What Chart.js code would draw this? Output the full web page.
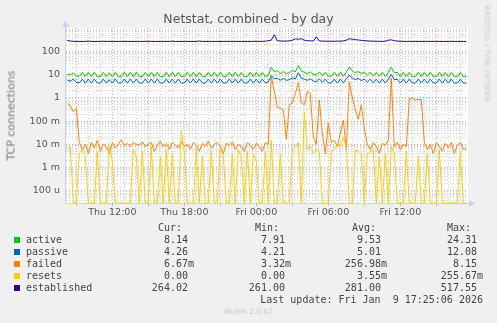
<!DOCTYPE html>
<html>
<head>
<meta charset="utf-8">
<script src="https://cdn.jsdelivr.net/npm/chart.js@4.4.0/dist/chart.umd.min.js"></script>
<style>
  body { margin: 0; background: #f0f0f0; width: 497px; height: 323px; overflow: hidden; position: relative;
         font-family: "DejaVu Sans", sans-serif; color: #444; }
  #wrap { position: absolute; left: 0; top: 0; width: 497px; height: 230px; }
  .t { position: absolute; white-space: pre; }
  .mono { font-family: "DejaVu Sans Mono", monospace; font-size: 10px; line-height: 12px; }
  .box { position: absolute; width: 6px; height: 6px; }
</style>
</head>
<body>
<div id="wrap"><canvas id="grafico" width="497" height="230"></canvas></div>
<div class="t" id="title" style="left:0;width:497px;top:11px;text-align:center;font-size:12.5px;color:#555;">Netstat, combined - by day</div>
<div class="t" style="left:-39px;top:109px;width:100px;text-align:center;font-size:11px;color:#777;transform:rotate(-90deg);">TCP connections</div>
<div class="t" style="left:437px;top:49px;width:100px;text-align:center;font-size:7.5px;color:#cccccc;transform:rotate(90deg);">RRDTOOL / TOBI OETIKER</div>
<div class="t" style="left:0;width:497px;top:307px;text-align:center;font-size:7.5px;color:#cccccc;">Munin 2.0.67</div>
<div id="legend"></div>
<script>
// x axis: hours since Thu 00:00, one sample every 15 minutes
const startHour = 8.25;
const stepHours = 0.25;
const xTickHours = [12, 18, 24, 30, 36];
const xTickLabels = ['Thu 12:00', 'Thu 18:00', 'Fri 00:00', 'Fri 06:00', 'Fri 12:00'];
const yTickValues = [1e-4, 1e-3, 1e-2, 1e-1, 1, 10, 100];
const yTickLabels = ['100 u', '1 m', '10 m', '100 m', '1', '10', '100'];
const yMin = 3e-5;
const yMax = 1000;

const seriesNames = ['active', 'passive', 'failed', 'resets', 'established'];
const seriesColors = ['#00cc00', '#0066b3', '#ff8000', '#ffcc00', '#330099'];

const activeVals = [
  10.5, 9.6, 12.0, 8.6, 8.4, 12.5, 8.2, 12.5, 8.1, 12.5,
  8.1, 8.1, 12.5, 8.1, 12.0, 8.1, 12.5, 8.1, 8.1, 12.5,
  8.1, 12.5, 8.1, 12.5, 8.1, 8.1, 12.5, 8.1, 12.5, 8.1,
  12.5, 8.1, 8.1, 12.5, 8.1, 12.5, 8.1, 12.5, 8.1, 8.1,
  12.5, 8.1, 12.5, 8.1, 12.5, 8.1, 8.1, 12.5, 8.1, 12.5,
  8.1, 12.5, 8.1, 8.1, 12.5, 8.1, 12.5, 8.1, 12.5, 8.1,
  8.1, 12.5, 8.1, 12.5, 8.1, 12.5, 8.2, 9.0, 20.0, 13.0,
  15.0, 11.0, 13.5, 11.0, 12.0, 15.0, 13.0, 24.3, 14.0, 12.5,
  11.0, 13.0, 10.5, 9.5, 13.0, 9.0, 12.5, 8.6, 8.4, 12.5,
  8.3, 12.5, 8.4, 13.0, 21.0, 14.0, 12.0, 13.5, 11.0, 12.5,
  9.5, 12.5, 8.6, 12.5, 8.3, 12.5, 8.2, 12.5, 20.0, 12.0,
  12.5, 8.2, 12.5, 8.1, 12.5, 8.1, 8.1, 12.5, 8.1, 12.5,
  8.1, 12.5, 8.1, 8.1, 12.5, 8.1, 12.5, 8.1, 12.5, 8.1,
  8.1, 12.5, 8.1, 8.14
];
const passiveVals = [
  5.8, 5.2, 6.3, 4.6, 4.4, 6.3, 4.3, 6.3, 4.3, 6.3,
  4.3, 4.3, 6.3, 4.3, 6.0, 4.3, 6.3, 4.3, 4.3, 6.3,
  4.3, 6.3, 4.3, 6.3, 4.3, 4.3, 6.3, 4.3, 6.3, 4.3,
  6.3, 4.3, 4.3, 6.3, 4.3, 6.3, 4.3, 6.3, 4.3, 4.3,
  6.3, 4.3, 6.3, 4.3, 6.3, 4.3, 4.3, 6.3, 4.3, 6.3,
  4.3, 6.3, 4.3, 4.3, 6.3, 4.3, 6.3, 4.3, 6.3, 4.3,
  4.3, 6.3, 4.3, 6.3, 4.3, 6.3, 4.4, 4.8, 9.0, 6.5,
  7.0, 5.6, 6.8, 5.6, 6.0, 7.2, 6.5, 12.0, 7.0, 6.3,
  5.6, 6.5, 5.3, 4.8, 6.5, 4.6, 6.3, 4.4, 4.3, 6.3,
  4.3, 6.3, 4.4, 6.5, 9.5, 7.0, 6.0, 6.8, 5.5, 6.3,
  4.8, 6.3, 4.4, 6.3, 4.3, 6.3, 4.3, 6.3, 10.0, 6.0,
  6.3, 4.3, 6.3, 4.3, 6.3, 4.3, 4.3, 6.3, 4.3, 6.3,
  4.3, 6.3, 4.3, 4.3, 6.3, 4.3, 6.3, 4.3, 6.3, 4.3,
  4.3, 6.3, 4.3, 4.26
];
const failedVals = [
  0.6, 0.45, 0.25, 0.35, 0.012, 0.006, 0.01, 0.004, 0.012, 0.007,
  0.015, 0.005, 0.01, 0.008, 0.004, 0.012, 0.007, 0.01, 0.016, 0.009,
  0.011, 0.008, 0.012, 0.01, 0.009, 0.013, 0.008, 0.01, 0.012, 0.005,
  0.009, 0.014, 0.008, 0.011, 0.006, 0.012, 0.009, 0.007, 0.013, 0.008,
  0.01, 0.006, 0.012, 0.009, 0.005, 0.011, 0.008, 0.014, 0.007, 0.01,
  0.012, 0.008, 0.004, 0.011, 0.009, 0.013, 0.006, 0.01, 0.008, 0.005,
  0.012, 0.009, 0.006, 0.011, 0.008, 0.005, 0.012, 0.01, 8.0, 2.0,
  0.4, 0.35, 0.3, 0.016, 0.5, 0.6, 1.5, 4.5, 0.6, 0.5,
  1.9, 1.5, 0.02, 0.01, 0.8, 0.03, 0.004, 0.08, 0.012, 0.015,
  0.008, 0.03, 0.11, 0.006, 4.8, 1.0, 0.3, 0.12, 0.5, 0.05,
  0.01, 0.006, 0.012, 0.008, 0.004, 0.011, 0.009, 0.015, 7.0, 0.008,
  0.012, 0.006, 0.01, 0.008, 0.9, 1.0, 0.8, 0.85, 0.85, 0.012,
  0.006, 0.01, 0.004, 0.012, 0.008, 0.005, 0.011, 0.007, 0.012, 0.004,
  0.009, 0.012, 0.006, 0.00667
];
const resetsVals = [
  0.006, 0.008, 0, 0, 0.004, 0.006, 0.003, 0, 0, 0,
  0.005, 0, 0, 0, 0.008, 0.002, 0, 0, 0, 0,
  0, 0, 0.006, 0.003, 0, 0.005, 0, 0, 0.008, 0,
  0, 0.003, 0, 0.006, 0, 0.004, 0, 0, 0.04, 0.005,
  0, 0, 0, 0.006, 0, 0.003, 0, 0, 0.005, 0,
  0, 0.008, 0.003, 0, 0, 0.004, 0, 0.006, 0.003, 0,
  0.005, 0, 0.004, 0.002, 0, 0, 0.005, 0, 0.015, 0,
  0, 0.004, 0, 0, 0, 0.006, 0.008, 0.012, 0, 0.25,
  0.006, 0.008, 0.004, 0.006, 0.005, 0, 0, 0, 0.005, 0.006,
  0.01, 0.008, 0.02, 0.008, 0, 0, 0.006, 0.005, 0.004, 0,
  0.004, 0.005, 0.006, 0, 0.003, 0, 0.004, 0, 0.008, 0.004,
  0, 0, 0, 0.005, 0, 0, 0, 0.003, 0, 0,
  0.004, 0, 0, 0, 0.006, 0, 0, 0, 0, 0,
  0, 0.005, 0, 0
];
const establishedVals = [
  290, 275, 266, 262, 263, 264, 263, 272, 264, 263,
  264, 264, 270, 264, 263, 264, 264, 263, 265, 264,
  264, 263, 264, 264, 264, 263, 264, 268, 264, 264,
  263, 264, 264, 264, 264, 270, 264, 263, 264, 264,
  264, 263, 264, 264, 275, 264, 264, 263, 264, 264,
  264, 263, 264, 264, 265, 264, 264, 264, 263, 264,
  264, 264, 265, 266, 264, 266, 270, 285, 300, 517,
  280, 275, 272, 275, 280, 300, 340, 330, 345, 300,
  285, 280, 275, 420, 280, 272, 270, 268, 270, 268,
  272, 270, 280, 300, 345, 330, 315, 305, 295, 285,
  280, 272, 270, 268, 266, 265, 270, 300, 310, 285,
  272, 268, 266, 264, 265, 264, 266, 264, 262, 264,
  265, 264, 263, 268, 264, 263, 264, 262, 266, 264,
  264, 263, 264, 264.02
];

const curVals = ['8.14', '4.26', '6.67m', '0.00', '264.02'];
const minVals = ['7.91', '4.21', '3.32m', '0.00', '261.00'];
const avgVals = ['9.53', '5.01', '256.98m', '3.55m', '281.00'];
const maxVals = ['24.31', '12.08', '8.15', '255.67m', '517.55'];
const lastUpdate = 'Last update: Fri Jan  9 17:25:06 2026';

const allVals = [activeVals, passiveVals, failedVals, resetsVals, establishedVals];

const red = 'rgba(235,130,130,0.7)';
const grey = 'rgba(195,195,195,0.75)';

function isDecade(v) {
  const l = Math.log10(v);
  return Math.abs(l - Math.round(l)) < 1e-6;
}

const yGridVals = [];
for (let e = -5; e <= 2; e++) {
  for (let m = 1; m <= 9; m++) {
    const v = m * Math.pow(10, e);
    if (v > yMin && v < yMax) yGridVals.push(v);
  }
}
const xGridHours = [];
for (let h = 9; h <= 41; h++) xGridHours.push(h);

const fondo = {
  id: 'fondo',
  beforeDraw(c) {
    const a = c.chartArea, g = c.ctx;
    g.save();
    g.fillStyle = '#ffffff';
    g.fillRect(a.left, a.top, a.right - a.left, a.bottom - a.top);
    g.restore();
  },
  afterDraw(c) {
    const a = c.chartArea, g = c.ctx;
    g.save();
    g.fillStyle = '#c8d0f8';
    g.strokeStyle = '#c8d0f8';
    g.beginPath();
    g.moveTo(a.left + 0.5, a.top);
    g.lineTo(a.left + 0.5, a.top - 2);
    g.stroke();
    g.beginPath();
    g.moveTo(a.left - 3, a.top - 1);
    g.lineTo(a.left + 4, a.top - 1);
    g.lineTo(a.left + 0.5, a.top - 7);
    g.closePath();
    g.fill();
    g.beginPath();
    g.moveTo(a.right, a.bottom + 0.5);
    g.lineTo(a.right + 2, a.bottom + 0.5);
    g.stroke();
    g.beginPath();
    g.moveTo(a.right + 1, a.bottom - 3);
    g.lineTo(a.right + 1, a.bottom + 4);
    g.lineTo(a.right + 7, a.bottom + 0.5);
    g.closePath();
    g.fill();
    g.restore();
  }
};

const ctx = document.getElementById('grafico').getContext('2d');
new Chart(ctx, {
  type: 'line',
  data: {
    datasets: seriesNames.map((name, k) => ({
      label: name,
      // a log axis cannot show 0, so zero readings sit on the bottom edge like rrdtool does
      data: allVals[k].map((v, i) => ({ x: startHour + i * stepHours, y: v === 0 ? yMin : v })),
      borderColor: seriesColors[k],
      borderWidth: 1,
      pointRadius: 0,
      tension: 0,
      fill: false,
      clip: 2,
      order: 5 - k
    }))
  },
  options: {
    responsive: false,
    animation: false,
    devicePixelRatio: 1,
    layout: { padding: { top: 28, right: 29, left: 0, bottom: 0 } },
    plugins: { legend: { display: false }, tooltip: { enabled: false }, title: { display: false } },
    scales: {
      x: {
        type: 'linear',
        min: 8.058,
        max: 41.64,
        afterFit: s => { s.height = 27; },
        afterBuildTicks: s => { s.ticks = xGridHours.map(h => ({ value: h })); },
        ticks: {
          autoSkip: false,
          maxRotation: 0,
          padding: 1,
          color: '#555',
          font: { family: 'DejaVu Sans', size: 9.5 },
          callback: v => {
            const k = xTickHours.indexOf(v);
            return k >= 0 ? xTickLabels[k] : '';
          }
        },
        grid: {
          color: c => (c.tick.value % 3 === 0 ? red : grey),
          tickColor: c => (c.tick.value % 3 === 0 ? red : 'rgba(0,0,0,0)'),
          tickLength: 3,
          lineWidth: 1
        },
        border: { color: '#c8d0f8', width: 1, dash: [1, 2] }
      },
      y: {
        type: 'logarithmic',
        min: yMin,
        max: yMax,
        afterFit: s => { s.width = 65; },
        afterBuildTicks: s => { s.ticks = yGridVals.map(v => ({ value: v })); },
        ticks: {
          autoSkip: false,
          padding: 5,
          color: '#555',
          font: { family: 'DejaVu Sans', size: 9.5 },
          callback: v => {
            if (!isDecade(v)) return '';
            const k = yTickValues.findIndex(t => Math.abs(Math.log10(t) - Math.log10(v)) < 1e-6);
            return k >= 0 ? yTickLabels[k] : '';
          }
        },
        grid: {
          color: c => (isDecade(c.tick.value) ? red : grey),
          drawTicks: false,
          lineWidth: 1
        },
        border: { color: '#c8d0f8', width: 1, dash: [1, 2] }
      }
    }
  },
  plugins: [fondo]
});

// legend table
const legend = document.getElementById('legend');
function addText(txt, left, right, yc) {
  const d = document.createElement('div');
  d.className = 't mono';
  d.textContent = txt;
  d.style.top = (yc - 6) + 'px';
  if (left !== null) d.style.left = left + 'px';
  if (right !== null) { d.style.right = (497 - right) + 'px'; d.style.textAlign = 'right'; }
  legend.appendChild(d);
}
const pad = s => (/[0-9]$/.test(s) ? s + ' ' : s);
addText('Cur:', 158, null, 227.7);
addText('Min:', 255, null, 227.7);
addText('Avg:', 352, null, 227.7);
addText('Max:', 447, null, 227.7);
seriesNames.forEach((name, k) => {
  const yc = 239.7 + k * 12;
  const b = document.createElement('div');
  b.className = 'box';
  b.style.left = '14px';
  b.style.top = (yc - 3) + 'px';
  b.style.background = seriesColors[k];
  legend.appendChild(b);
  addText(name, 26, null, yc);
  addText(pad(curVals[k]), null, 194, yc);
  addText(pad(minVals[k]), null, 291, yc);
  addText(pad(avgVals[k]), null, 387, yc);
  addText(pad(maxVals[k]), null, 483, yc);
});
addText(lastUpdate, null, 483, 299.7);
</script>
</body>
</html>
